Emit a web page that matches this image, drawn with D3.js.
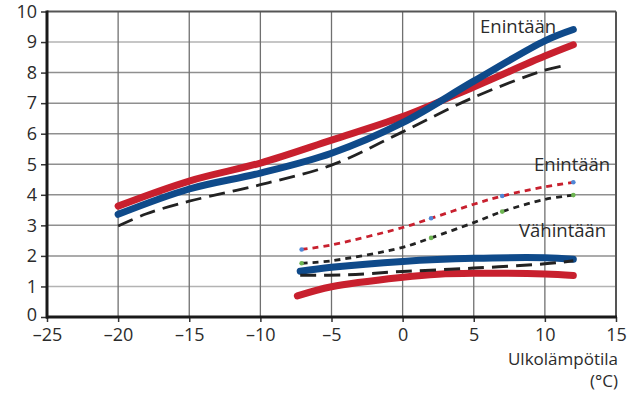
<!DOCTYPE html>
<html><head><meta charset="utf-8">
<script src="https://cdn.jsdelivr.net/npm/d3@7"></script>
<style>body{margin:0;background:#fff}svg{display:block}text{font-family:"Open Sans",sans-serif;fill:#2b2b2b}</style>
</head><body><svg id="c" width="627" height="394"></svg>
<script>
const xTicks = [-25,-20,-15,-10,-5,0,5,10,15];
const yTicks = [0,1,2,3,4,5,6,7,8,9,10];
// upper group
const tempUpper = [-20,-15,-10,-5,0,5,10,12];
const redUpper  = [3.63,4.45,5.04,5.79,6.56,7.53,8.54,8.91];
const blueUpper = [3.36,4.19,4.71,5.36,6.36,7.72,9.04,9.41];
const tempDashUpper = [-20,-18,-15,-10,-5,0,5,10,11.5];
const dashUpper = [2.98,3.38,3.79,4.33,4.97,6.06,7.19,8.08,8.24];
// lower group
const tempRedLower = [-7.4,-5,0,2.5,5,10,12];
const redLower = [0.69,0.99,1.30,1.40,1.43,1.41,1.36];
const tempBlueLower = [-7.2,-5,0,5,10,12];
const blueLower = [1.50,1.63,1.82,1.92,1.94,1.89];
const tempDashLower = [-7.2,-4,0,5,10,12];
const dashLower = [1.37,1.38,1.49,1.60,1.74,1.84];
const tempDotted = [-7.1,-5,0,2,5,7,10,12];
const redDotted = [2.21,2.36,2.93,3.23,3.69,3.96,4.26,4.41];
const blackDotted = [1.76,1.84,2.28,2.59,3.09,3.45,3.85,3.99];
const markerTemps = [-7.1,2,7,12];
const labels = [
  {t:"Enintään", x:5.44, y:9.29},
  {t:"Enintään", x:9.24, y:4.78},
  {t:"Vähintään", x:8.18, y:2.62}
];

const svg = d3.select("#c");
const L=47, R=616, T=11.5, B=317;
const x = d3.scaleLinear().domain([-25,15]).range([L,R]);
const y = d3.scaleLinear().domain([0,10]).range([B,T]);

// grid
svg.append("g").selectAll("line").data(yTicks.filter(d=>d>0&&d<10)).join("line")
  .attr("x1",L).attr("x2",R).attr("y1",d=>y(d)).attr("y2",d=>y(d))
  .attr("stroke",d=>(d===1||d===9)?"#b3b3b3":"#8f8f8f").attr("stroke-width",1.5);
svg.append("g").selectAll("line").data(xTicks.filter(d=>d>-25&&d<15)).join("line")
  .attr("x1",d=>x(d)).attr("x2",d=>x(d)).attr("y1",T).attr("y2",B)
  .attr("stroke","#707070").attr("stroke-width",1.3);
// frame
svg.append("line").attr("x1",L).attr("x2",R).attr("y1",T).attr("y2",T).attr("stroke","#555").attr("stroke-width",2);
svg.append("line").attr("x1",R).attr("x2",R).attr("y1",T).attr("y2",B).attr("stroke","#555").attr("stroke-width",2);

// axes
const yAxis = svg.append("g").attr("transform",`translate(${L},0)`)
  .call(d3.axisLeft(y).tickValues(yTicks).tickSize(6).tickPadding(4).tickFormat(d3.format("d")));
const xAxis = svg.append("g").attr("transform",`translate(0,${B})`)
  .call(d3.axisBottom(x).tickValues(xTicks).tickSize(5).tickPadding(6).tickFormat(d=>d<0?"–"+Math.abs(d):d));
[yAxis,xAxis].forEach(g=>{
  g.select(".domain").remove();
  g.selectAll(".tick line").attr("stroke","#333").attr("stroke-width",1.5);
  g.selectAll(".tick text").attr("font-size",18).attr("fill","#3a3a3a").style("font-family",'"Open Sans",sans-serif');
});
yAxis.selectAll(".tick text").filter(d=>d===0).attr("dy","0.22em");
svg.append("line").attr("x1",L).attr("x2",L).attr("y1",T-1).attr("y2",B+1.5).attr("stroke","#1a1a1a").attr("stroke-width",3);
svg.append("line").attr("x1",L-1).attr("x2",R+1).attr("y1",B).attr("y2",B).attr("stroke","#1a1a1a").attr("stroke-width",3);

const line = d3.line().x(d=>x(d[0])).y(d=>y(d[1])).curve(d3.curveCatmullRom.alpha(0.5));
function draw(ts, vs, color, w, dash){
  svg.append("path").attr("d",line(d3.zip(ts,vs))).attr("fill","none")
    .attr("stroke",color).attr("stroke-width",w).attr("stroke-linecap",dash?"butt":"round")
    .attr("stroke-dasharray",dash||null);
}
const RED="#c8202e", BLUE="#0f4a8a", BLK="#222";
draw(tempDashUpper,dashUpper,BLK,2.8,"16,8");
draw(tempUpper,redUpper,RED,7);
draw(tempUpper,blueUpper,BLUE,7);
draw(tempRedLower,redLower,RED,7);
draw(tempBlueLower,blueLower,BLUE,7);
draw(tempDashLower,dashLower,BLK,3,"16,8");
draw(tempDotted,redDotted,RED,2.8,"6,5");
draw(tempDotted,blackDotted,BLK,2.8,"6,5");

const pts = d3.zip(tempDotted,redDotted,blackDotted).filter(d=>markerTemps.includes(d[0]));
svg.append("g").selectAll("circle").data(pts).join("circle")
  .attr("cx",d=>x(d[0])).attr("cy",d=>y(d[1])).attr("r",2.3).attr("fill","#4f86d6");
svg.append("g").selectAll("circle").data(pts).join("circle")
  .attr("cx",d=>x(d[0])).attr("cy",d=>y(d[2])).attr("r",2.3).attr("fill","#6db552");

// labels
svg.append("g").selectAll("text").data(labels).join("text")
  .attr("x",d=>x(d.x)).attr("y",d=>y(d.y))
  .attr("font-size",18.5).attr("fill","#1a1a1a").text(d=>d.t);
svg.append("text").attr("x",618).attr("y",365).attr("text-anchor","end").attr("font-size",17).attr("fill","#1a1a1a").text("Ulkolämpötila");
svg.append("text").attr("x",618).attr("y",387).attr("text-anchor","end").attr("font-size",17).attr("fill","#1a1a1a").text("(°C)");
</script></body></html>
